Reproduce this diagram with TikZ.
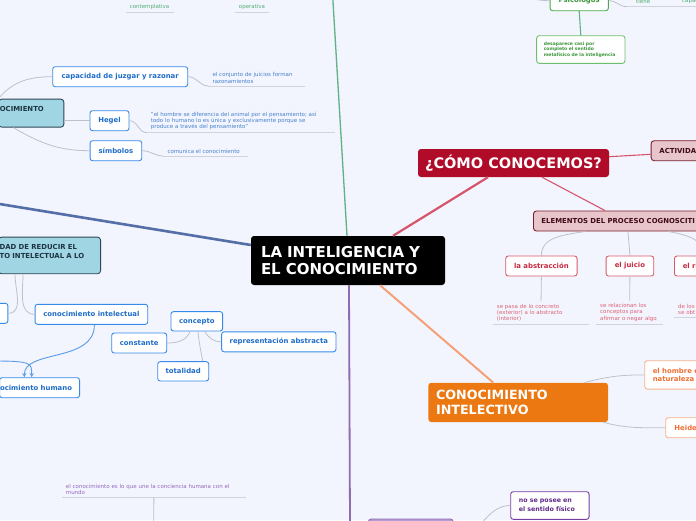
\documentclass[tikz,border=0pt]{standalone}
\usepackage{fontspec}
\setmainfont{DejaVu Sans}
\usepackage{xcolor}
\usepackage{tikz}
\definecolor{canvas}{RGB}{242, 245, 253}
\definecolor{linkgray}{RGB}{190, 193, 202}
\definecolor{ulinegray}{RGB}{208, 211, 220}
\definecolor{topicred}{RGB}{176, 12, 42}
\definecolor{branchred}{RGB}{214, 85, 106}
\definecolor{pinkfill}{RGB}{232, 197, 203}
\definecolor{pinkedge}{RGB}{122, 28, 44}
\definecolor{pinkink}{RGB}{62, 10, 22}
\definecolor{leafred}{RGB}{214, 90, 104}
\definecolor{leafredink}{RGB}{198, 42, 62}
\definecolor{noteredink}{RGB}{222, 98, 118}
\definecolor{topicorange}{RGB}{236, 120, 18}
\definecolor{branchorange}{RGB}{246, 160, 120}
\definecolor{leaforange}{RGB}{249, 178, 142}
\definecolor{leaforangeink}{RGB}{240, 112, 52}
\definecolor{branchpurple}{RGB}{142, 108, 178}
\definecolor{leafpurple}{RGB}{118, 62, 160}
\definecolor{leafpurpleink}{RGB}{96, 42, 136}
\definecolor{purplefill}{RGB}{182, 156, 212}
\definecolor{notepurpleink}{RGB}{150, 104, 192}
\definecolor{branchblue}{RGB}{84, 110, 168}
\definecolor{leafblue}{RGB}{56, 138, 232}
\definecolor{leafblueink}{RGB}{30, 108, 200}
\definecolor{noteblueink}{RGB}{72, 128, 206}
\definecolor{arrowblue}{RGB}{90, 154, 232}
\definecolor{tealfill}{RGB}{160, 214, 228}
\definecolor{tealedge}{RGB}{48, 70, 86}
\definecolor{tealink}{RGB}{30, 52, 66}
\definecolor{branchgreen}{RGB}{96, 178, 132}
\definecolor{leafgreen}{RGB}{74, 170, 74}
\definecolor{leafgreenink}{RGB}{58, 150, 58}
\definecolor{desapedge}{RGB}{110, 190, 110}
\definecolor{notegreenink}{RGB}{84, 172, 120}

\begin{document}
\begin{tikzpicture}[x=1pt, y=-1pt,
    every node/.style={font=\bfseries\fontsize{6.9}{8.6}\selectfont, inner sep=0pt},
    hub/.style={rounded corners=3pt, fill=black, text=white, font=\bfseries\fontsize{15}{17}\selectfont, align=left},
    leaf/.style={rounded corners=2.5pt, line width=0.9pt, fill=white, minimum height=20pt},
    bleaf/.style={leaf, draw=leafblue, text=leafblueink},
    rleaf/.style={leaf, draw=leafred, text=leafredink},
    oleaf/.style={leaf, draw=leaforange, text=leaforangeink},
    pleaf/.style={leaf, draw=leafpurple, text=leafpurpleink},
    gleaf/.style={leaf, draw=leafgreen, text=leafgreenink},
    tealbox/.style={rounded corners=3pt, line width=0.9pt, fill=tealfill, draw=tealedge, text=tealink, align=left},
    pinkbox/.style={rounded corners=3pt, line width=0.9pt, fill=pinkfill, draw=pinkedge, text=pinkink, align=left, minimum height=20pt},
    note/.style={font=\fontsize{5.5}{6.3}\selectfont, align=left, anchor=south west, inner xsep=4pt, inner ysep=2.5pt},
    uline/.style={draw=ulinegray, line width=0.8pt},
    link/.style={draw=linkgray, line width=0.8pt}]
    \useasboundingbox (0,0) rectangle (696,520);
    \clip (0,0) rectangle (696,520);
    \fill[canvas] (0,0) rectangle (696,520);

    % Central topic and its main branches
    \node[hub, minimum width=194pt, minimum height=49pt, text width=174pt, inner xsep=10pt] (central) at (348,260.5) {LA INTELIGENCIA Y\\EL CONOCIMIENTO};
    \coordinate (bluefar) at (-20,200.8);
    \coordinate (greenfar) at (332.6,-5);
    \coordinate (purplefar) at (350,525);
    \draw[branchblue, line width=2.6pt] ([yshift=15.5pt]central.west) -- (bluefar);
    \draw[branchgreen, line width=1.3pt] ([xshift=-1pt]central.north) -- (greenfar);
    \draw[branchpurple, line width=1.8pt] ([xshift=1pt]central.south) -- (purplefar);

    % Como conocemos
    \node[hub, fill=topicred, font=\bfseries\fontsize{14.5}{17}\selectfont, minimum width=191pt, minimum height=28pt] (cono) at (513.5,163) {¿CÓMO CONOCEMOS?};
    \draw[branchred, line width=2.2pt] ([xshift=45pt]central.north) -- ([xshift=-25.5pt]cono.south);
    \node[pinkbox, anchor=west, inner xsep=8.3pt, text width=60pt] (activ) at (650.7,150.7) {ACTIVIDA};
    \node[pinkbox, anchor=west, inner xsep=8pt, text width=200pt] (elem) at (533,221) {ELEMENTOS DEL PROCESO COGNOSCITI};
    \draw[branchred, line width=1.1pt] ([yshift=6.3pt]cono.east) -- ([yshift=-3.6pt]activ.west);
    \draw[branchred, line width=1.1pt] ([xshift=28.5pt]cono.south) -- ([xshift=72pt]elem.north west);

    \node[rleaf, minimum width=71.3pt] (abstr) at (541.4,266) {la abstracción};
    \node[rleaf, minimum width=47.7pt] (juicio) at (629.9,266) {el juicio};
    \node[rleaf, anchor=west, inner xsep=8.3pt, text width=40pt, align=left] (razon) at (674,266) {el ra};
    \draw[link] ([xshift=52pt]elem.south west) to[out=190,in=90] (abstr.north);
    \draw[link] ([xshift=95pt]elem.south west) -- (juicio.north);
    \draw[link] ([xshift=135pt]elem.south west) to[out=-10,in=90] ([xshift=30pt]razon.north west);

    \node[note, text=noteredink, text width=88.3pt] (absnote) at (492.7,324.3) {se pasa de lo concreto\\(exterior) a lo abstracto\\(interior)};
    \node[note, text=noteredink, text width=59pt] (juinote) at (596,324) {se relacionan los\\conceptos para\\afirmar o negar algo};
    \node[note, text=noteredink, text width=40pt] (raznote) at (674,317.7) {de los\\se obt};
    \draw[uline] (absnote.south west) -- (absnote.south east);
    \draw[uline] (juinote.south west) -- (juinote.south east);
    \draw[uline] (raznote.south west) -- (raznote.south east);
    \draw[link] (abstr.south) -- (absnote.north);
    \draw[link] (juicio.south) -- (juinote.north);

    % Conocimiento intelectivo
    \node[hub, fill=topicorange, font=\bfseries\fontsize{12.7}{15.3}\selectfont, minimum width=179.7pt, minimum height=39.3pt, text width=164.3pt, inner xsep=7.7pt] (intel) at (518.2,402.4) {CONOCIMIENTO\\INTELECTIVO};
    \draw[branchorange, line width=2pt] ([xshift=32pt]central.south) -- ([xshift=-25pt]intel.north);
    \node[oleaf, anchor=west, inner xsep=8pt, text width=60pt, align=left, minimum height=28.3pt] (hombre) at (644.3,374.9) {el hombre e\\naturaleza};
    \node[oleaf, anchor=west, inner xsep=8.7pt, text width=40pt, align=left] (heide) at (665.3,427.7) {Heide};
    \draw[link] ([xshift=156.7pt]intel.north west) to[out=15,in=180] (hombre.west);
    \draw[link] ([xshift=-5pt]intel.south east) to[out=-15,in=180] (heide.west);

    % Purple branch
    \node[pleaf, minimum width=78.3pt, minimum height=27.6pt, text width=62pt, align=left, font=\bfseries\fontsize{6.3}{8.6}\selectfont] (fisico) at (549.9,505.5) {no se posee en\\el sentido físico};
    \node[rounded corners=3pt, line width=0.9pt, fill=purplefill, draw=branchpurple, minimum width=85pt, minimum height=41pt] (purbox) at (410.8,539.5) {};
    \draw[link] (purbox.east) to[out=0,in=180] (fisico.west);

    \node[note, text=notepurpleink, text width=176pt] (unenote) at (61.7,497.3) {el conocimiento es lo que une la conciencia humana con el\\mundo};
    \coordinate (uneout) at (153.7,525);
    \draw[uline] (unenote.south west) -- (unenote.south east);
    \draw[link] (unenote.south) -- (uneout);

    % Teoria del conocimiento (top left)
    \node[tealbox, anchor=north east, minimum height=28pt, text width=63pt, inner xsep=1pt] (teoria) at (64.3,98.7) {OCIMIENTO\\~};
    \node[bleaf, minimum width=135pt] (capac) at (120.2,76.7) {capacidad de juzgar y razonar};
    \node[bleaf, minimum width=39pt] (hegel) at (109.5,120.7) {Hegel};
    \node[bleaf, minimum width=51.7pt] (simbolos) at (115.9,150.7) {símbolos};
    \draw[link] ([xshift=-66pt]teoria.north east) to[out=50,in=180] (capac.west);
    \draw[link] (teoria.east |- hegel.west) -- (hegel.west);
    \draw[link] ([xshift=-51pt]teoria.south east) to[out=-30,in=180] (simbolos.west);

    \node[note, text=noteblueink, text width=88pt] (capnote) at (208.3,86) {el conjunto de juicios forman\\razonamientos};
    \node[note, text=noteblueink, text width=180.3pt] (hegnote) at (146.7,132.7) {"el hombre se diferencia del animal por el pensamiento; así\\todo lo humano lo es única y exclusivamente porque se\\produce a través del pensamiento"};
    \node[note, text=noteblueink, text width=76pt] (simnote) at (163.3,156) {comunica el conocimiento};
    \draw[uline] (capnote.south west) -- (capnote.south east);
    \draw[uline] (hegnote.south west) -- (hegnote.south east);
    \draw[uline] (simnote.south west) -- (simnote.south east);
    \draw[link] (capac.east) to[out=0,in=180] (capnote.south west);
    \draw[link] (hegel.east) to[out=0,in=180] (hegnote.south west);
    \draw[link] (simbolos.east) to[out=0,in=180] (simnote.south west);

    \node[note, text=notegreenink, anchor=south, minimum width=47.6pt] (contemp) at (149.5,12.3) {contemplativa};
    \node[note, text=notegreenink, anchor=south, minimum width=34pt] (operat) at (252,12.3) {operativa};
    \draw[uline] (contemp.south west) -- (contemp.south east);
    \draw[uline] (operat.south west) -- (operat.south east);

    % Reducir el conocimiento (left middle)
    \node[tealbox, anchor=north east, minimum height=36.6pt, text width=100pt, inner xsep=1pt] (reducir) at (101,236.7) {DAD DE REDUCIR EL\\TO INTELECTUAL A LO\\~};
    \node[bleaf, anchor=east, minimum width=40pt] (leftleaf) at (8.3,313.3) {};
    \node[bleaf, minimum width=112.7pt] (intelec) at (91.4,314.3) {conocimiento intelectual};
    \node[bleaf, anchor=east, text width=79pt, inner xsep=0.5pt, align=left] (humano) at (80,387.7) {ocimiento humano};
    \draw[link] ([xshift=-86pt]reducir.south east) to[out=-90,in=0] (leftleaf.east);
    \draw[link] ([xshift=-78pt]reducir.south east) to[out=-90,in=180] (intelec.west);
    \coordinate (humin) at (-6,361);
    \draw[->, >=stealth, arrowblue, line width=0.9pt] ([xshift=3pt]intelec.south) .. controls +(0,38) and +(0,-28) .. ([xshift=-55.7pt]humano.north east);
    \draw[->, >=stealth, arrowblue, line width=0.9pt] (humin) .. controls +(38,0) and +(0,-14) .. ([xshift=-48.3pt]humano.north east);

    % Concepto
    \node[bleaf, minimum width=51.7pt, minimum height=19.3pt] (concepto) at (196.8,321.3) {concepto};
    \node[bleaf, minimum width=55pt] (constante) at (139.2,343) {constante};
    \node[bleaf, minimum width=114.3pt] (represent) at (278.8,341.8) {representación abstracta};
    \node[bleaf, minimum width=51pt, minimum height=19.3pt] (totalidad) at (183.2,371.3) {totalidad};
    \draw[link] ([xshift=-6.8pt]concepto.south) to[out=-110,in=0] (constante.east);
    \draw[link] ([xshift=1.2pt]concepto.south) to[out=-85,in=100] ([xshift=19.5pt]totalidad.north);
    \draw[link] ([xshift=8pt]concepto.south) to[out=-60,in=180] (represent.west);

    % Psicologos (top right)
    \node[gleaf, minimum width=58.3pt] (psico) at (579.2,0.7) {Psicólogos};
    \node[gleaf, draw=desapedge, minimum width=88.3pt, minimum height=27.6pt, text width=74pt, align=left, font=\bfseries\fontsize{4.5}{5.7}\selectfont] (desap) at (580.8,49.5) {desaparece casi por\\completo el sentido\\metafísico de la inteligencia};
    \draw[branchgreen, line width=1.1pt] (psico.south) -- (desap.north);
    \coordinate (psicin) at (510,-4);
    \draw[link] (psicin) to[out=0,in=180] (psico.west);
    \node[note, text=notegreenink, text width=33pt, inner xsep=9pt] (tiene) at (627,6.7) {tiene};
    \node[note, text=notegreenink, text width=40pt] (capaz) at (678,6.7) {capac};
    \draw[uline] (tiene.south west) -- (tiene.south east);
    \draw[uline] (capaz.south west) -- (capaz.south east);
    \draw[link] (psico.east) to[out=0,in=180] (tiene.south west);
\end{tikzpicture}
\end{document}
